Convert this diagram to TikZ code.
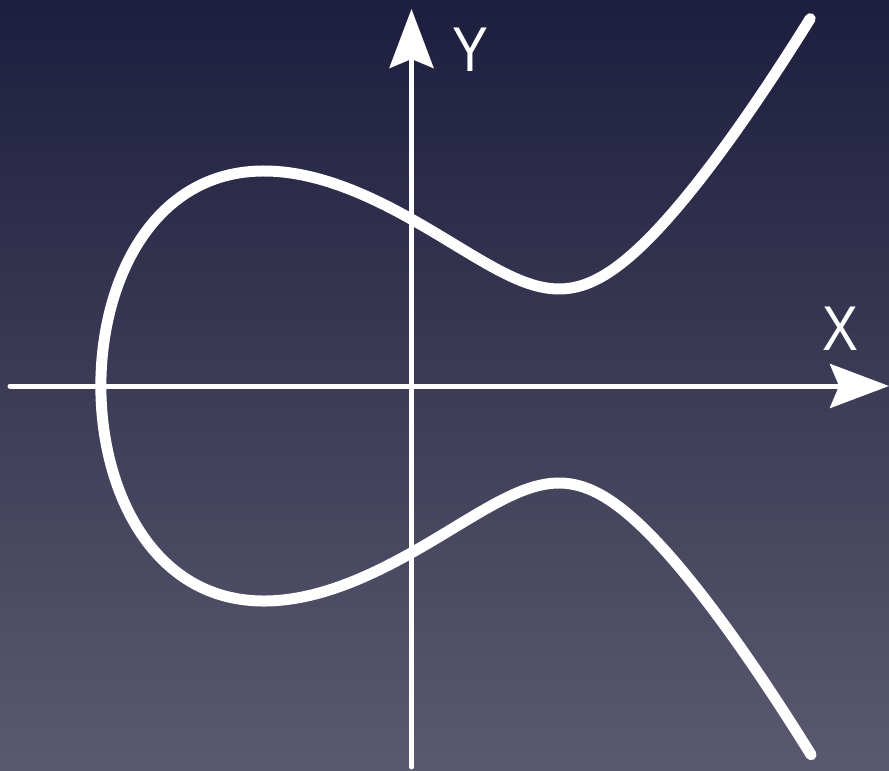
\documentclass[tikz,border=0pt]{standalone}
\usepackage{fontspec}
\setmainfont{Liberation Sans}
\usetikzlibrary{arrows.meta}
\definecolor{bgtop}{HTML}{1D1E3E}
\definecolor{bgbot}{HTML}{5A596F}
\begin{document}
\begin{tikzpicture}[
  declare function={gx(\x)=\x*\x-3.1064*\x+3.1227;},
  axisline/.style={white, line width=0.05cm, line cap=round,
     -{Stealth[length=5.9mm,width=4.4mm,inset=0.9mm]}},
  curveline/.style={white, line width=0.11cm, line cap=round, line join=round},
  axislabel/.style={white, font=\fontsize{18}{18}\selectfont, inner sep=0pt, xscale=0.85}
]
\shade[top color=bgtop, bottom color=bgbot] (0,0) rectangle (8.89,7.70);
\useasboundingbox (0,0) rectangle (8.89,7.70);
% axes
\coordinate (xl) at (0.10,3.84);
\coordinate (xr) at (8.89,3.84);
\coordinate (yb) at (4.115,0.03);
\coordinate (yt) at (4.115,7.61);
\draw[axisline] (xl) -- (xr);
\draw[axisline] (yb) -- (yt);
\node[axislabel] (ylab) at (4.70,7.20) {Y};
\node[axislabel] (xlab) at (8.40,4.41) {X};
% curve
\begin{scope}[shift={(4.115,3.84)}]
\draw[curveline] plot[domain=-2.665:2.665, samples=241, smooth, variable=\t]
  ({-3.1064+\t*\t}, {\t*sqrt(0.2868*gx(-3.1064+\t*\t))});
\end{scope}
\end{tikzpicture}
\end{document}
